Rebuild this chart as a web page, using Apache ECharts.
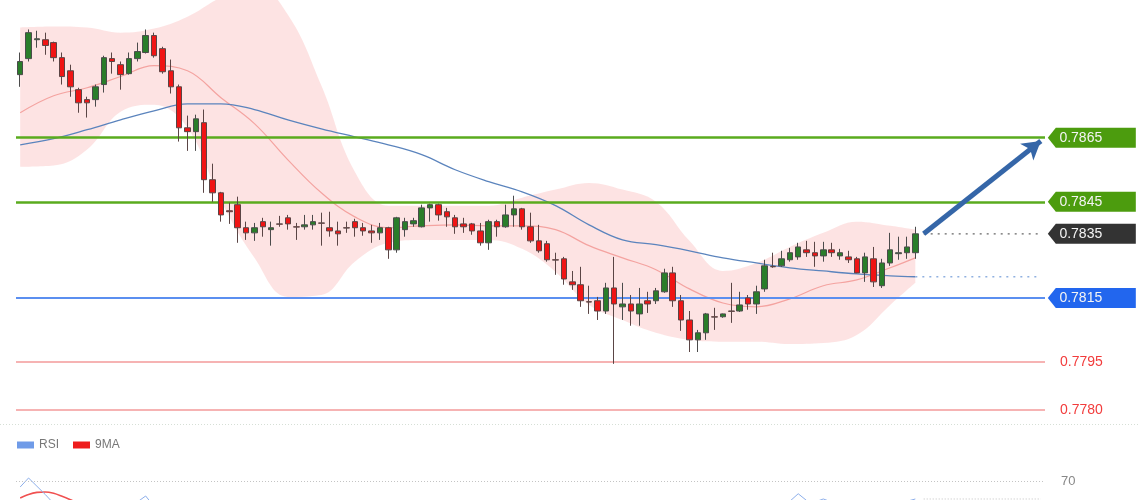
<!DOCTYPE html>
<html><head><meta charset="utf-8">
<script src="https://cdn.jsdelivr.net/npm/echarts@6/dist/echarts.min.js"></script>
<style>html,body{margin:0;padding:0;background:#fff}#c{width:1140px;height:500px}</style>
</head><body><div id="c"></div>
<script>
// ---- data (prices) ----
const candles = [ // [open, close, low, high]
[0.78847,0.78888,0.78809,0.78916],[0.78897,0.78978,0.78888,0.78988],[0.78956,0.78959,0.78931,0.78984],[0.78956,0.78938,0.78909,0.78978],
[0.78947,0.78900,0.78888,0.78950],[0.78900,0.78841,0.78816,0.78916],[0.78859,0.78809,0.78778,0.78878],[0.78800,0.78759,0.78728,0.78806],
[0.78769,0.78759,0.78713,0.78778],[0.78769,0.78809,0.78747,0.78816],[0.78816,0.78900,0.78791,0.78906],[0.78897,0.78888,0.78850,0.78916],
[0.78878,0.78847,0.78800,0.78888],[0.78850,0.78897,0.78847,0.78916],[0.78897,0.78919,0.78888,0.78947],[0.78916,0.78969,0.78913,0.78988],
[0.78969,0.78906,0.78900,0.78978],[0.78928,0.78856,0.78850,0.78934],[0.78859,0.78809,0.78788,0.78894],[0.78809,0.78681,0.78638,0.78816],
[0.78681,0.78669,0.78609,0.78719],[0.78669,0.78709,0.78609,0.78722],[0.78697,0.78519,0.78478,0.78738],[0.78519,0.78478,0.78450,0.78569],
[0.78478,0.78409,0.78388,0.78481],[0.78422,0.78419,0.78381,0.78447],[0.78441,0.78369,0.78322,0.78466],[0.78369,0.78353,0.78331,0.78388],
[0.78353,0.78369,0.78328,0.78384],[0.78388,0.78372,0.78341,0.78400],[0.78363,0.78369,0.78313,0.78388],[0.78381,0.78380,0.78372,0.78406],
[0.78400,0.78381,0.78363,0.78409],[0.78372,0.78371,0.78331,0.78384],[0.78372,0.78378,0.78363,0.78409],[0.78378,0.78388,0.78363,0.78409],
[0.78384,0.78383,0.78313,0.78416],[0.78369,0.78359,0.78341,0.78419],[0.78359,0.78350,0.78313,0.78388],[0.78369,0.78368,0.78353,0.78388],
[0.78388,0.78369,0.78341,0.78397],[0.78369,0.78359,0.78344,0.78384],[0.78359,0.78353,0.78322,0.78378],[0.78353,0.78369,0.78331,0.78384],
[0.78369,0.78300,0.78272,0.78372],[0.78300,0.78400,0.78291,0.78403],[0.78363,0.78388,0.78341,0.78400],[0.78381,0.78391,0.78372,0.78400],
[0.78372,0.78431,0.78370,0.78441],[0.78431,0.78441,0.78388,0.78444],[0.78441,0.78409,0.78391,0.78444],[0.78419,0.78403,0.78372,0.78431],
[0.78400,0.78372,0.78350,0.78409],[0.78381,0.78372,0.78353,0.78400],[0.78381,0.78359,0.78347,0.78384],[0.78359,0.78322,0.78313,0.78384],
[0.78322,0.78388,0.78300,0.78394],[0.78388,0.78372,0.78341,0.78394],[0.78372,0.78409,0.78369,0.78441],[0.78409,0.78428,0.78372,0.78469],
[0.78428,0.78372,0.78363,0.78431],[0.78372,0.78328,0.78322,0.78416],[0.78328,0.78297,0.78291,0.78378],[0.78319,0.78269,0.78263,0.78328],
[0.78269,0.78268,0.78222,0.78291],[0.78272,0.78209,0.78191,0.78278],[0.78200,0.78191,0.78175,0.78234],[0.78191,0.78141,0.78122,0.78247],
[0.78138,0.78137,0.78100,0.78188],[0.78141,0.78109,0.78081,0.78153],[0.78109,0.78181,0.78100,0.78197],[0.78181,0.78131,0.77944,0.78278],
[0.78122,0.78131,0.78081,0.78197],[0.78131,0.78109,0.78063,0.78159],[0.78100,0.78131,0.78063,0.78181],[0.78141,0.78131,0.78103,0.78169],
[0.78141,0.78172,0.78131,0.78181],[0.78169,0.78228,0.78166,0.78241],[0.78228,0.78141,0.78122,0.78247],[0.78141,0.78081,0.78047,0.78159],
[0.78081,0.78019,0.77981,0.78109],[0.78019,0.78041,0.77981,0.78050],[0.78041,0.78100,0.78019,0.78103],[0.78091,0.78090,0.78050,0.78119],
[0.78091,0.78100,0.78088,0.78101],[0.78109,0.78108,0.78072,0.78197],[0.78109,0.78128,0.78106,0.78169],[0.78150,0.78131,0.78113,0.78159],
[0.78131,0.78169,0.78100,0.78188],[0.78178,0.78250,0.78169,0.78269],[0.78248,0.78247,0.78244,0.78291],[0.78250,0.78272,0.78247,0.78297],
[0.78269,0.78291,0.78263,0.78306],[0.78278,0.78309,0.78269,0.78322],[0.78300,0.78291,0.78278,0.78328],[0.78291,0.78281,0.78247,0.78325],
[0.78281,0.78300,0.78263,0.78325],[0.78300,0.78291,0.78278,0.78322],[0.78281,0.78291,0.78269,0.78303],[0.78278,0.78269,0.78259,0.78297],
[0.78272,0.78228,0.78227,0.78278],[0.78228,0.78278,0.78200,0.78291],[0.78272,0.78200,0.78184,0.78309],[0.78188,0.78259,0.78181,0.78272],
[0.78259,0.78300,0.78250,0.78353],[0.78288,0.78291,0.78269,0.78341],[0.78291,0.78309,0.78272,0.78341],[0.78291,0.78350,0.78272,0.78372]
];
const slotCount = 123; // candle slots incl. empty right margin
const bandIdx   = [0,4,8,12,16,20,24,28,32,36,40,44,48,52,56,60,64,68,72,76,80,84,88,92,96,100,104,107];
const bandUpper = [0.78994,0.78997,0.78994,0.78978,0.78991,0.79028,0.79088,0.79128,0.79034,0.78813,0.78544,0.78438,0.78438,0.78438,0.78438,0.78463,0.78488,0.78509,0.78488,0.78450,0.78328,0.78234,0.78259,0.78309,0.78353,0.78388,0.78375,0.78363];
const bandLower = [0.78559,0.78563,0.78613,0.78731,0.78753,0.78681,0.78453,0.78275,0.78153,0.78159,0.78263,0.78322,0.78331,0.78331,0.78331,0.78303,0.78231,0.78128,0.78081,0.78041,0.78019,0.78013,0.78013,0.78006,0.78009,0.78034,0.78128,0.78197];
const bandMid   = [0.78728,0.78781,0.78806,0.78841,0.78875,0.78859,0.78775,0.78694,0.78581,0.78478,0.78403,0.78369,0.78375,0.78378,0.78375,0.78375,0.78363,0.78313,0.78275,0.78238,0.78178,0.78134,0.78122,0.78147,0.78188,0.78206,0.78244,0.78275];
const maLong    = [0.78628,0.78647,0.78675,0.78706,0.78734,0.78756,0.78756,0.78738,0.78706,0.78678,0.78653,0.78628,0.78597,0.78550,0.78513,0.78481,0.78438,0.78378,0.78331,0.78316,0.78297,0.78275,0.78259,0.78244,0.78234,0.78225,0.78219,0.78216];
const levelsTag = [ {v:0.7865, c:'#4c9c0e'}, {v:0.7845, c:'#4c9c0e'}, {v:0.7835, c:'#333333'}, {v:0.7815, c:'#2266ee'} ];
const levelsLine = [ {v:0.7865, c:'#5aab1e', w:2.5}, {v:0.7845, c:'#5aab1e', w:2.5}, {v:0.7815, c:'#5b8ff0', w:2} ];
const levelsRed = [0.7795, 0.7780];
const lastPrice = 0.7835;
const arrowTarget = 0.7864;
const rsi = [66,72,66.5,61,55,48,44,40,40,45,54,53,50,54,56,60,53,48,43,34,33,37,26,24,21,23,20,20,23,25,26,28,28,29,31,33,33,32,31,33,36,35,35,37,32,45,46,47,52,53,49,48,45,45,43,40,47,46,50,52,46,42,39,37,37,33,32,29,29,27,35,32,33,31,35,34,39,45,38,33,29,31,38,38,39,40,42,40,45,53,53,55,56.5,61.5,57,56,58,56,55,53,49,54,47,53,56,55,56.5,58];
const rsiMA = [58.7,61,62.4,62.7,61.8,59.8,57.5,55,52,50,49,48.5,48,48.5,50,51,51.5,51,50,48,45,43,40,36,32,29.5,27,25,24,23.5,23.5,24,25,26,27,28.5,29.5,30.5,31,31.5,32.5,33,33.5,34,34,35.5,37,39,41,43,45,46.5,47.5,48,47.5,46.5,46,45.5,46,46.5,46.5,46,45,43.5,42,40,38,35.5,34,32,32,31.5,31.5,31.5,32,32.5,33.5,35,35.5,35.5,35,34.5,35,35.5,35.5,36,37,38,40,42,44,46,48.5,51.5,53.5,54,54,55,55.5,55,54.5,54,53,52.5,52,53,53.5,54];
const rsiLevel = 70;

// ---- build ----
const cats = Array.from({length: slotCount}, (_, i) => String(i));
const pair = (arr) => bandIdx.map((k, j) => [k, arr[j]]);
const lastIdx = candles.length - 1;
const font = 'Liberation Sans, Arial, sans-serif';
const tagPath = 'path://M0,10 L8,0 L88,0 L88,20 L8,20 Z';

const chart = echarts.init(document.getElementById('c'), null, {renderer: 'canvas'});
chart.setOption({
  animation: false,
  backgroundColor: '#ffffff',
  textStyle: {fontFamily: font},
  grid: [
    {left: 16, width: 1029, top: 0, height: 426},
    {left: 16, width: 1029, top: 436, height: 64}
  ],
  xAxis: [
    {type: 'category', data: cats, gridIndex: 0, show: false, boundaryGap: true},
    {type: 'category', data: cats, gridIndex: 1, show: false, boundaryGap: true}
  ],
  yAxis: [
    {type: 'value', gridIndex: 0, min: 0.7775, max: 0.7908, show: false, splitLine: {show: false}},
    {type: 'value', gridIndex: 1, min: 57.33, max: 100, show: false, splitLine: {show: false}}
  ],
  legend: {
    data: ['RSI', '9MA'], left: 12, top: 434, icon: 'rect', itemWidth: 17, itemHeight: 7, itemGap: 14,
    textStyle: {color: '#777', fontSize: 12, fontFamily: font}
  },
  graphic: [{type: 'line', shape: {x1: 0, y1: 424.5, x2: 1140, y2: 424.5}, style: {stroke: '#d6dfd6', lineWidth: 1, lineDash: [1, 2]}, silent: true}],
  series: [
    {name: 'bbBase', type: 'line', xAxisIndex: 0, yAxisIndex: 0, data: pair(bandLower), stack: 'bb', smooth: 0.4,
     symbol: 'none', lineStyle: {opacity: 0}, silent: true, z: 1},
    {name: 'bbFill', type: 'line', xAxisIndex: 0, yAxisIndex: 0, data: bandIdx.map((k, j) => [k, bandUpper[j] - bandLower[j]]), stack: 'bb', smooth: 0.4,
     symbol: 'none', lineStyle: {opacity: 0}, areaStyle: {color: 'rgba(247,150,150,0.27)', opacity: 1}, silent: true, z: 1},
    {name: 'mid', type: 'line', xAxisIndex: 0, yAxisIndex: 0, data: pair(bandMid), smooth: 0.4, symbol: 'none',
     lineStyle: {color: '#f4a3a0', width: 1.2}, silent: true, z: 2,
     markLine: {silent: true, symbol: 'none', animation: false, precision: 5,
       data: [
         ...levelsLine.map(l => ({yAxis: l.v, lineStyle: {color: l.c, width: l.w, type: 'solid'}, label: {show: false}})),
         ...levelsRed.map(v => ({yAxis: v, lineStyle: {color: '#f39a9a', width: 1.5, type: 'solid'},
           label: {show: true, position: 'end', distance: 15, formatter: v.toFixed(4), color: '#f23c3c', fontSize: 14, fontFamily: font}}))
       ]}},
    {name: 'maLong', type: 'line', xAxisIndex: 0, yAxisIndex: 0, data: pair(maLong), smooth: 0.4, symbol: 'none',
     lineStyle: {color: '#5b84bd', width: 1.3}, silent: true, z: 2},
    {name: 'maLongExt', type: 'line', xAxisIndex: 0, yAxisIndex: 0, data: [[lastIdx, maLong[maLong.length-1]], [slotCount - 1, maLong[maLong.length-1]]],
     symbol: 'none', lineStyle: {color: '#8fb0e0', width: 1.5, type: [2, 5]}, silent: true, z: 2},
    {name: 'lastExt', type: 'line', xAxisIndex: 0, yAxisIndex: 0, data: [[lastIdx + 1, lastPrice], [slotCount - 1, lastPrice]],
     symbol: 'none', lineStyle: {color: '#666', width: 1.3, type: [2, 5]}, silent: true, z: 2,
     markLine: {silent: true, symbol: ['none', 'arrow'], symbolSize: [16, 18], precision: 5,
       lineStyle: {color: '#3566a8', width: 5, type: 'solid'}, label: {show: false},
       data: [[{coord: [lastIdx + 1, lastPrice]}, {coord: [slotCount - 1, arrowTarget]}]]}},
    {name: 'price', type: 'candlestick', xAxisIndex: 0, yAxisIndex: 0, data: candles, barWidth: 6, z: 5,
     itemStyle: {color: '#2a7d2a', color0: '#f01414', borderColor: '#4b4b4b', borderColor0: '#5a4545', borderWidth: 1},
     markPoint: {silent: true, animation: false,
       data: levelsTag.map(t => ({coord: [slotCount - 1, t.v], value: t.v.toFixed(4), symbol: tagPath, symbolSize: [88, 20],
         symbolOffset: [51, 0], symbolKeepAspect: false, itemStyle: {color: t.c},
         label: {show: true, position: 'inside', offset: [-11, 0], color: '#f4f4f4', fontSize: 14, fontFamily: font, formatter: t.v.toFixed(4)}}))}
    },
    {name: 'RSI', type: 'line', xAxisIndex: 1, yAxisIndex: 1, data: rsi, symbol: 'none',
     itemStyle: {color: '#6f9be8'}, lineStyle: {color: '#8caeea', width: 1}, z: 3,
     markLine: {silent: true, symbol: 'none', data: [{yAxis: rsiLevel}],
       lineStyle: {color: '#c4c4c4', width: 1, type: [1, 2]},
       label: {show: true, position: 'end', distance: 16, formatter: String(rsiLevel), color: '#888', fontSize: 13, fontFamily: font}}},
    {name: 'rsiExt', type: 'line', xAxisIndex: 1, yAxisIndex: 1, data: [[lastIdx + 1, rsi[lastIdx]], [slotCount - 1, rsi[lastIdx]]],
     symbol: 'none', lineStyle: {color: '#c0c0c0', width: 1, type: [1, 2]}, silent: true},
    {name: '9MA', type: 'line', xAxisIndex: 1, yAxisIndex: 1, data: rsiMA, symbol: 'none', smooth: 0.3,
     itemStyle: {color: '#ee1c1c'}, lineStyle: {color: '#f05050', width: 1.6}, z: 2}
  ]
});
</script></body></html>
